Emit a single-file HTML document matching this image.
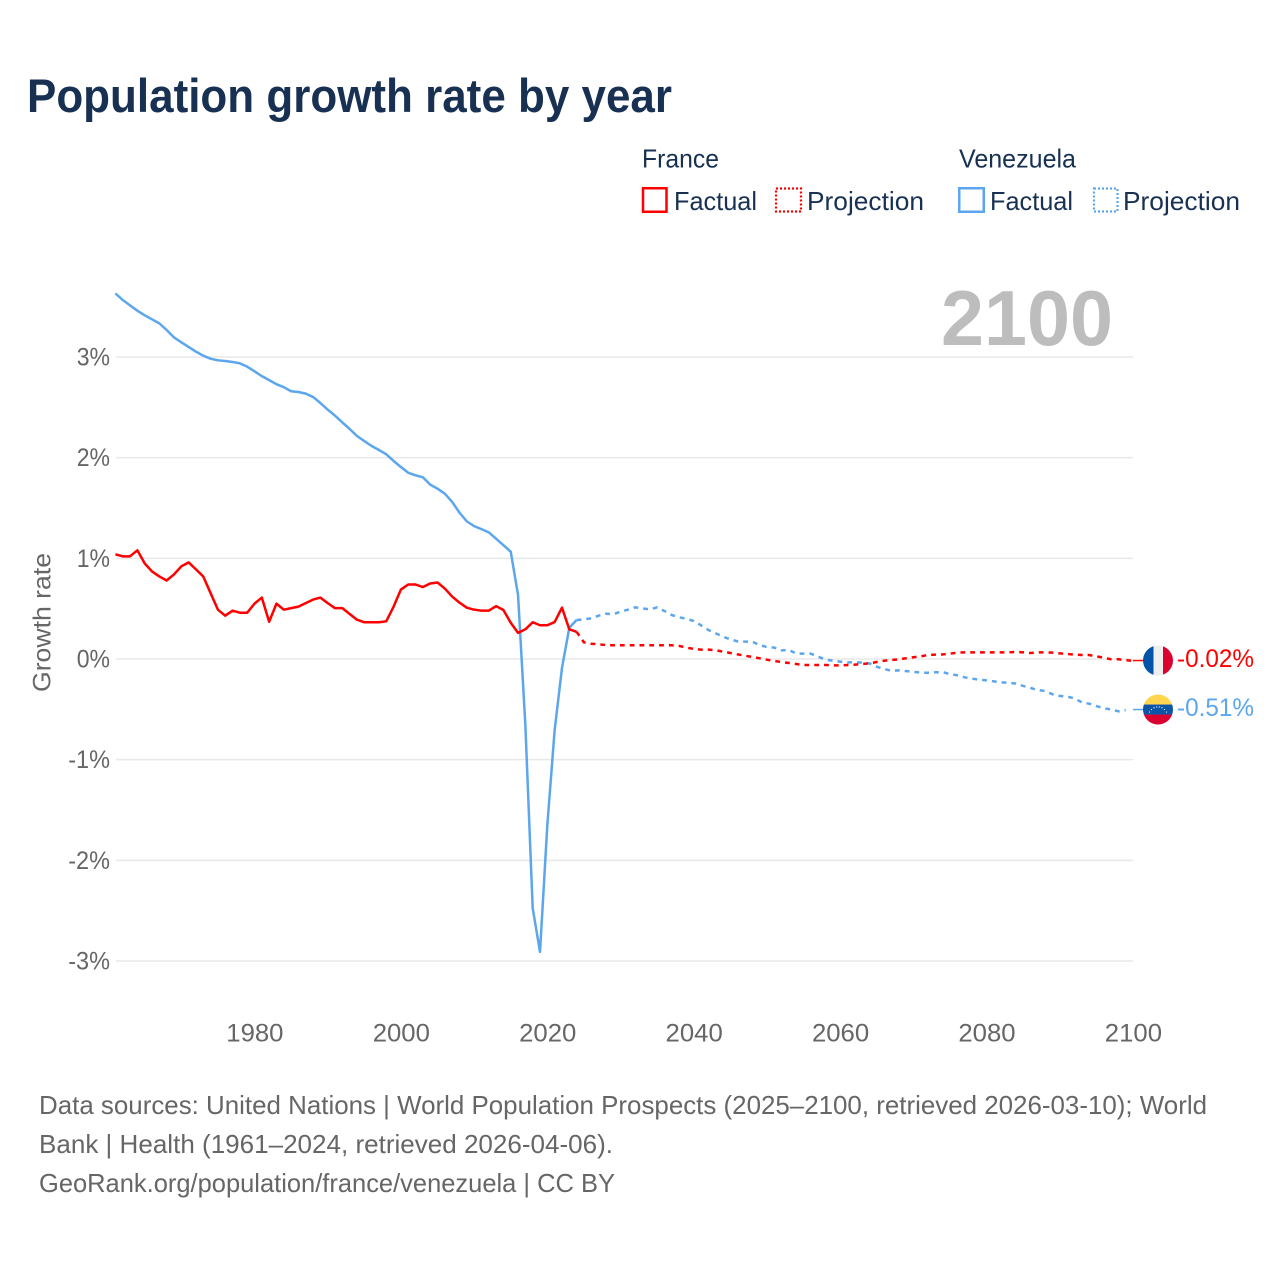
<!DOCTYPE html>
<html lang="en">
<head>
<meta charset="utf-8">
<title>Population growth rate by year</title>
<style>
html,body{margin:0;padding:0;background:#fff;}
svg{display:block;}
text{font-family:"Liberation Sans",sans-serif;}
</style>
</head>
<body>
<svg id="chart" width="1280" height="1280" viewBox="0 0 1280 1280" xmlns="http://www.w3.org/2000/svg">
  <defs>
    <clipPath id="flag-clip"><circle cx="0" cy="0" r="15"/></clipPath>
  </defs>
  <rect x="0" y="0" width="1280" height="1280" fill="#fff"/>
  <text x="27" y="112" font-size="47" font-weight="700" fill="#183153" textLength="645" lengthAdjust="spacingAndGlyphs">Population growth rate by year</text>

  <g font-size="26" fill="#183153">
    <text x="642" y="167.500" textLength="77" lengthAdjust="spacingAndGlyphs">France</text>
    <text x="959" y="167.500" textLength="117" lengthAdjust="spacingAndGlyphs">Venezuela</text>
    <g>
      <rect x="643" y="188.250" width="23.500" height="23.500" fill="none" stroke="#ff0000" stroke-width="2.500"/>
      <text x="674" y="210" textLength="83" lengthAdjust="spacingAndGlyphs">Factual</text>
    </g>
    <g>
      <rect x="776" y="188.500" width="25" height="23" fill="none" stroke="#ff0000" stroke-width="2.200" stroke-dasharray="2 2"/>
      <text x="807" y="210" textLength="117" lengthAdjust="spacingAndGlyphs">Projection</text>
    </g>
    <g>
      <rect x="959.250" y="188.250" width="24.500" height="23.500" fill="none" stroke="#5ca6ee" stroke-width="2.500"/>
      <text x="990" y="210" textLength="83" lengthAdjust="spacingAndGlyphs">Factual</text>
    </g>
    <g>
      <rect x="1094" y="188.500" width="23.500" height="23" fill="none" stroke="#5ca6ee" stroke-width="2.200" stroke-dasharray="2 2"/>
      <text x="1123" y="210" textLength="117" lengthAdjust="spacingAndGlyphs">Projection</text>
    </g>
  </g>

  <g id="grid"></g>
  <g id="y-ticks"></g>
  <g id="x-ticks"></g>
  <text transform="translate(50.500,692) rotate(-90)" font-size="25" fill="#666" textLength="139" lengthAdjust="spacingAndGlyphs">Growth rate</text>
  <text id="big-year" x="1113" y="345" font-size="78" font-weight="700" fill="#bdbdbd" text-anchor="end" textLength="172" lengthAdjust="spacingAndGlyphs"></text>

  <g id="series"></g>

  <g id="flag-france">
    <g clip-path="url(#flag-clip)">
      <rect x="-15" y="-15" width="10.500" height="30" fill="#0055a8"/>
      <rect x="-4.500" y="-15" width="9.500" height="30" fill="#efefef"/>
      <rect x="5" y="-15" width="10" height="30" fill="#dc0030"/>
    </g>
  </g>
  <g id="flag-venezuela">
    <g clip-path="url(#flag-clip)">
      <rect x="-15" y="-15" width="30" height="10" fill="#ffd54f"/>
      <rect x="-15" y="-5" width="30" height="10" fill="#0a55a8"/>
      <rect x="-15" y="5" width="30" height="10" fill="#dc0030"/>
      <g fill="#fff">
        <circle cx="-8.500" cy="2.500" r=".6"/><circle cx="-6.500" cy="0" r=".6"/><circle cx="-4" cy="-1.800" r=".6"/><circle cx="-1.300" cy="-2.600" r=".6"/><circle cx="1.300" cy="-2.600" r=".6"/><circle cx="4" cy="-1.800" r=".6"/><circle cx="6.500" cy="0" r=".6"/><circle cx="8.500" cy="2.500" r=".6"/>
      </g>
    </g>
  </g>
  <text id="label-france" x="1177" font-size="25" fill="#ff0000" textLength="77" lengthAdjust="spacingAndGlyphs"></text>
  <text id="label-venezuela" x="1177" font-size="25" fill="#5ca6ee" textLength="77" lengthAdjust="spacingAndGlyphs"></text>

  <g font-size="26" fill="#666">
    <text x="39" y="1114" textLength="1168" lengthAdjust="spacingAndGlyphs">Data sources: United Nations | World Population Prospects (2025–2100, retrieved 2026-03-10); World</text>
    <text x="39" y="1153" textLength="574" lengthAdjust="spacingAndGlyphs">Bank | Health (1961–2024, retrieved 2026-04-06).</text>
    <text x="39" y="1192" textLength="576" lengthAdjust="spacingAndGlyphs">GeoRank.org/population/france/venezuela | CC BY</text>
  </g>
</svg>
<script>
const yTicks = [3, 2, 1, 0, -1, -2, -3];
const xTicks = [1980, 2000, 2020, 2040, 2060, 2080, 2100];
const factualStartYear = 1961;
const projectionStartYear = 2024;

const franceFactual = [1.04,1.02,1.02,1.08,0.95,0.87,0.82,0.78,0.84,0.92,0.96,0.89,0.82,0.655,0.49,0.43,0.48,0.46,0.46,0.55,0.61,0.37,0.55,0.49,0.505,0.52,0.555,0.59,0.61,0.555,0.505,0.505,0.447,0.39,0.365,0.365,0.365,0.375,0.52,0.69,0.74,0.74,0.715,0.75,0.76,0.70,0.62,0.56,0.51,0.49,0.48,0.48,0.525,0.487,0.36,0.26,0.295,0.365,0.335,0.335,0.367,0.51,0.295,0.27];
const franceProjection = [0.27,0.165,0.152,0.146,0.139,0.136,0.136,0.136,0.136,0.136,0.136,0.136,0.136,0.136,0.13,0.113,0.10,0.093,0.093,0.086,0.073,0.06,0.046,0.033,0.02,0.007,-0.007,-0.02,-0.03,-0.04,-0.05,-0.06,-0.06,-0.06,-0.06,-0.063,-0.063,-0.06,-0.056,-0.05,-0.043,-0.03,-0.017,-0.01,-0.003,0.007,0.017,0.026,0.04,0.043,0.046,0.053,0.063,0.066,0.066,0.066,0.066,0.066,0.066,0.066,0.07,0.066,0.06,0.066,0.066,0.063,0.056,0.05,0.043,0.04,0.04,0.026,0.013,-0.003,-0.003,-0.01,-0.02];

const venezuelaFactual = [3.632,3.566,3.513,3.46,3.414,3.374,3.334,3.268,3.195,3.146,3.10,3.053,3.013,2.983,2.967,2.96,2.95,2.937,2.904,2.858,2.81,2.77,2.73,2.70,2.66,2.652,2.636,2.603,2.543,2.477,2.417,2.35,2.285,2.215,2.165,2.116,2.076,2.033,1.967,1.907,1.85,1.825,1.805,1.732,1.692,1.642,1.56,1.454,1.367,1.32,1.29,1.258,1.195,1.13,1.066,0.635,-0.66,-2.475,-2.91,-1.65,-0.705,-0.09,0.31,0.387];
const venezuelaProjection = [0.387,0.394,0.404,0.43,0.45,0.444,0.47,0.49,0.513,0.503,0.493,0.513,0.477,0.437,0.414,0.40,0.377,0.334,0.288,0.255,0.222,0.195,0.175,0.172,0.172,0.139,0.119,0.113,0.086,0.09,0.053,0.053,0.053,0.023,-0.007,-0.017,-0.026,-0.033,-0.033,-0.036,-0.043,-0.076,-0.10,-0.116,-0.113,-0.12,-0.126,-0.136,-0.136,-0.132,-0.13,-0.15,-0.162,-0.182,-0.195,-0.205,-0.212,-0.222,-0.232,-0.235,-0.245,-0.268,-0.288,-0.308,-0.318,-0.35,-0.367,-0.374,-0.39,-0.43,-0.444,-0.467,-0.49,-0.50,-0.52,-0.507];

const NS = 'http://www.w3.org/2000/svg';
const redColor = '#ff0000';
const blueColor = '#5ca6ee';

function xScale(year) { return 115.4 + (year - 1961) * (1133 - 115.4) / 139; }
function yScale(v) { return 659 - v * 100.67; }
function labelWidth(s) {
  let w = 0;
  for (const c of s) { w += c === '-' ? 8.5 : c === '%' ? 19 : 14.3; }
  return w;
}
function linePath(values, startYear) {
  return values.map((v, i) => (i ? 'L' : 'M') + xScale(startYear + i).toFixed(2) + ' ' + yScale(v).toFixed(2)).join(' ');
}

const gridLayer = document.getElementById('grid');
const yLayer = document.getElementById('y-ticks');
const xLayer = document.getElementById('x-ticks');
const seriesLayer = document.getElementById('series');

yTicks.forEach(t => {
  const line = document.createElementNS(NS, 'line');
  
  
  line.setAttribute('x1', 116);
  line.setAttribute('x2', 1133);
  line.setAttribute('y1', yScale(t));
  line.setAttribute('y2', yScale(t));
  line.setAttribute('stroke', '#e8e8e8');
  line.setAttribute('stroke-width', '1.500');
  gridLayer.appendChild(line);

  const label = document.createElementNS(NS, 'text');
  
  
  const s = t + '%';
  label.textContent = s;
  label.setAttribute('x', 110);
  label.setAttribute('y', yScale(t) + 8.500);
  label.setAttribute('font-size', '25');
  label.setAttribute('fill', '#666');
  label.setAttribute('text-anchor', 'end');
  label.setAttribute('textLength', labelWidth(s));
  label.setAttribute('lengthAdjust', 'spacingAndGlyphs');
  yLayer.appendChild(label);
});

xTicks.forEach(t => {
  const label = document.createElementNS(NS, 'text');
  
  
  label.textContent = String(t);
  label.setAttribute('x', xScale(t) + 0.4);
  label.setAttribute('y', 1041.500);
  label.setAttribute('font-size', '25');
  label.setAttribute('fill', '#666');
  label.setAttribute('text-anchor', 'middle');
  label.setAttribute('textLength', labelWidth(String(t)));
  label.setAttribute('lengthAdjust', 'spacingAndGlyphs');
  xLayer.appendChild(label);
});

function addLine(values, startYear, color, dashed, name) {
  const p = document.createElementNS(NS, 'path');
  
  
  p.setAttribute('d', linePath(values, startYear));
  p.setAttribute('fill', 'none');
  p.setAttribute('stroke', color);
  p.setAttribute('stroke-width', '2.500');
  p.setAttribute('stroke-linejoin', 'round');
  if (dashed) p.setAttribute('stroke-dasharray', '4.800 5');
  seriesLayer.appendChild(p);
}

addLine(venezuelaProjection, projectionStartYear, blueColor, true, 'venezuela-projection-line');
addLine(franceProjection, projectionStartYear, redColor, true, 'france-projection-line');
addLine(venezuelaFactual, factualStartYear, blueColor, false, 'venezuela-factual-line');
addLine(franceFactual, factualStartYear, redColor, false, 'france-factual-line');

function addEnd(values, color, flagId, labelId, name) {
  const last = values[values.length - 1];
  const endX = xScale(2100);
  const endY = yScale(last);
  const c = document.createElementNS(NS, 'line');
  
  
  c.setAttribute('x1', endX);
  c.setAttribute('x2', endX + 12);
  c.setAttribute('y1', endY - 0.5);
  c.setAttribute('y2', endY - 0.5);
  c.setAttribute('stroke', color);
  c.setAttribute('stroke-width', '1.500');
  seriesLayer.appendChild(c);
  document.getElementById(flagId).setAttribute('transform', 'translate(1158,' + (endY - 0.5).toFixed(2) + ')');
  const t = document.getElementById(labelId);
  t.textContent = last.toFixed(2) + '%';
  t.setAttribute('y', (endY + 6).toFixed(2));
}
addEnd(franceProjection, redColor, 'flag-france', 'label-france', 'france-end-connector');
addEnd(venezuelaProjection, blueColor, 'flag-venezuela', 'label-venezuela', 'venezuela-end-connector');

document.getElementById('big-year').textContent = String(projectionStartYear + franceProjection.length - 1);
</script>
</body>
</html>
